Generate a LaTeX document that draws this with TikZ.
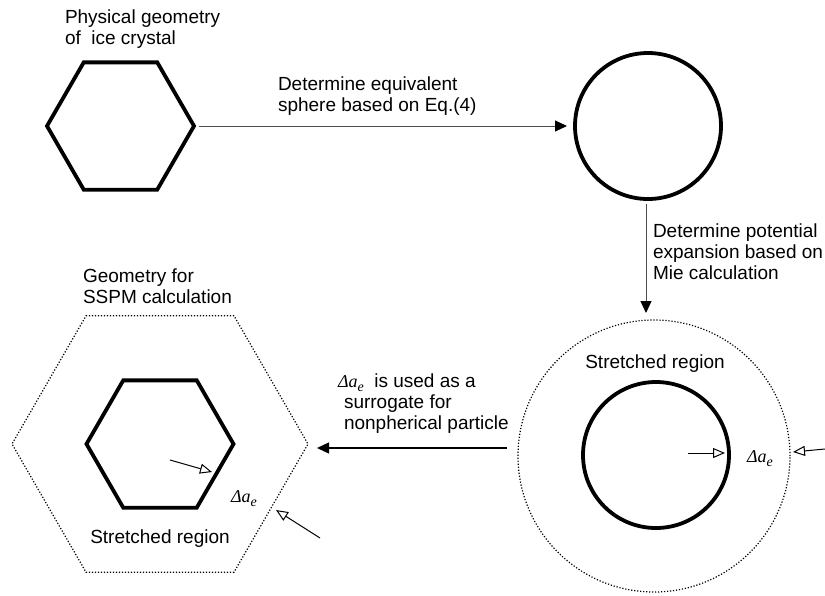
\documentclass[tikz,border=0pt]{standalone}
\usepackage{fontspec}
\setmainfont{Liberation Sans}
\newfontfamily\serifit{Liberation Serif}
\usetikzlibrary{arrows.meta,shapes.geometric}
\newcommand\dae{{\serifit\itshape Δa\raisebox{-4pt}{\fontsize{14}{14}\selectfont e}}}
\begin{document}
\begin{tikzpicture}[x=1pt,y=-1pt,
  txt/.style={font=\fontsize{19}{21}\selectfont, inner sep=0, outer sep=0},
  lbl/.style={txt, align=left, anchor=north west},
  sym/.style={font=\fontsize{18}{21}\selectfont, inner sep=0, outer sep=0, anchor=base west},
  hexbold/.style={regular polygon, regular polygon sides=6, draw, line width=3.8pt, inner sep=0, outer sep=0, minimum size=147pt},
  hexdot/.style={regular polygon, regular polygon sides=6, draw=black, line width=1.2pt, dash pattern=on 1.2pt off 1.8pt, inner sep=0, outer sep=0, minimum size=296pt},
  ringbold/.style={circle, draw, line width=3.8pt, inner sep=0, outer sep=0, minimum size=146pt},
  ringdot/.style={circle, draw=black, line width=1.2pt, dash pattern=on 1.2pt off 1.8pt, inner sep=0, outer sep=0, minimum size=272pt},
  flow/.style={line width=1pt, draw=black!70, -{Triangle[length=12pt,width=11pt,color=black,fill=black]}},
  flowdark/.style={line width=1.3pt, draw=black, -{Triangle[length=12pt,width=11pt]}},
  hint/.style={line width=1pt, draw=black, -{Triangle[open,length=12pt,width=10pt,fill=white]}}
]
\fill[white] (0,0) rectangle (825,595);
\useasboundingbox (0,0) rectangle (825,595);

% shapes
\node[hexbold] (H1) at (120.5,126) {};
\node[ringbold] (C1) at (648,126) {};
\node[ringdot] (C2) at (654,456) {};
\node[ringbold] (C3) at (656,455) {};
\node[hexdot] (H2) at (160,444) {};
\node[hexbold] (H3) at (160,444) {};

% texts
\node[lbl] (T1) at (65,9.5) {Physical geometry\\of\ \ ice crystal};
\node[lbl] (T2) at (278,76.5) {Determine equivalent\\sphere based on Eq.(4)};
\node[lbl] (T3) at (653,223.5) {Determine potential\\expansion based on\\Mie calculation};
\node[lbl] (T4) at (83,268.5) {Geometry for\\SSPM calculation};
\node[lbl] (T5) at (338,373.5) {{\fontsize{18}{21}\selectfont\dae}\ \ is used as a\\\hspace*{6pt}surrogate for\\\hspace*{6pt}nonpherical particle};
\node[txt, anchor=base] (S1) at (655,368) {Stretched region};
\node[txt, anchor=base] (S2) at (160,543) {Stretched region};
\node[sym] (D1) at (747,462) {\dae};
\node[sym] (D2) at (231,502) {\dae};

% connectors
\draw[flow, shorten <=5pt, shorten >=8pt] (H1.east) -- (C1.west);
\draw[flow, shorten <=5pt, shorten >=7pt] ([xshift=-2pt]C1.south) -- ([xshift=-2pt]C1.south |- C2.north);
\draw[flowdark] ([xshift=-11pt,yshift=8pt]C2.west) -- ([xshift=9pt,yshift=-4pt]H2.east);

% hint arrows
\coordinate (h1a) at (688,453);
\draw[hint] (h1a) -- ([xshift=-4pt,yshift=2pt]C3.east);
\coordinate (h2a) at (825,449);
\draw[hint] (h2a) -- ([xshift=3pt,yshift=4pt]C2.east);
\coordinate (h3a) at (170,460);
\coordinate (h3b) at (212,472);
\draw[hint] (h3a) -- (h3b);
\coordinate (h4a) at (320,538);
\coordinate (h4b) at (276,510);
\draw[hint] (h4a) -- (h4b);
\end{tikzpicture}
\end{document}
